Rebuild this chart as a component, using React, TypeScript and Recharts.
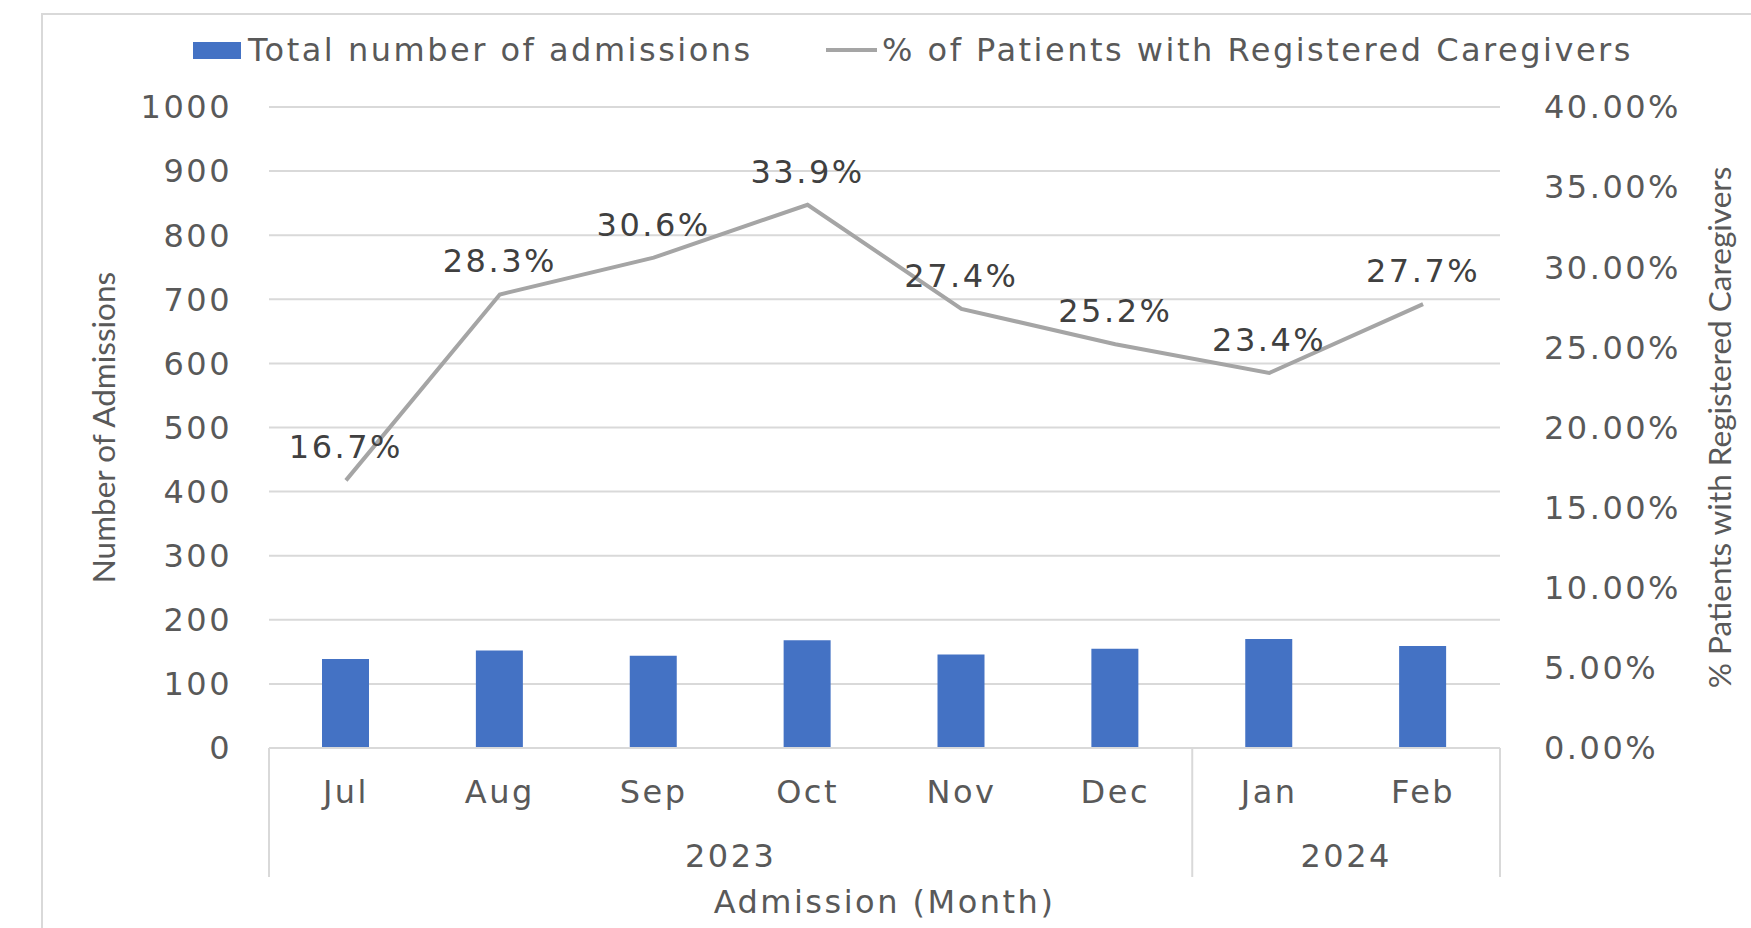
import React from "react";
import { ComposedChart, Bar, Line, XAxis, YAxis, CartesianGrid, LabelList, Label } from "recharts";

const months = ["Jul", "Aug", "Sep", "Oct", "Nov", "Dec", "Jan", "Feb"];
const years = ["2023", "2023", "2023", "2023", "2023", "2023", "2024", "2024"];
const admissions = [139, 152, 144, 168, 146, 155, 170, 159];
const caregiverPct = [16.7, 28.3, 30.6, 33.9, 27.4, 25.2, 23.4, 27.7];
const admissionTicks = [0, 100, 200, 300, 400, 500, 600, 700, 800, 900, 1000];
const pctTicks = [0, 5, 10, 15, 20, 25, 30, 35, 40];

const rows = months.map((m, i) => ({
  month: m,
  year: years[i],
  admissions: admissions[i],
  pct: caregiverPct[i],
}));

const TEXT = "#595959";
const LABEL = "#404040";
const GRID = "#d9d9d9";
const BLUE = "#4472C4";
const GREY_LINE = "#A5A5A5";
const FS = 32;

function MonthTick(props: any) {
  const { x, y, payload, index } = props;
  const half = payload.offset ?? 77;
  const yr = years[index];
  const first = index === 0 || years[index - 1] !== yr;
  const last = index === months.length - 1;
  const groupSize = years.filter((v) => v === yr).length;
  return (
    <g>
      <text x={x} y={y + 43} dy="0.36em" textAnchor="middle" fill={TEXT} fontSize={FS}>
        {payload.value}
      </text>
      {first && <line x1={x - half} x2={x - half} y1={y} y2={y + 129} stroke={GRID} strokeWidth={2} />}
      {first && (
        <text x={x - half + groupSize * half} y={y + 107} dy="0.36em" textAnchor="middle" fill={TEXT} fontSize={FS}>
          {yr}
        </text>
      )}
      {last && <line x1={x + half} x2={x + half} y1={y} y2={y + 129} stroke={GRID} strokeWidth={2} />}
    </g>
  );
}

const vTitle = (text: string, dx: number) => (p: any) => {
  const vb = p.viewBox;
  const cx = vb.x + dx;
  const cy = vb.y + vb.height / 2;
  return (
    <text
      x={cx}
      y={cy}
      dy="0.36em"
      textAnchor="middle"
      transform={`rotate(-90, ${cx}, ${cy})`}
      fill={TEXT}
      fontSize={31.5}
      style={{ fontFamily: "Lato", letterSpacing: 0 }}
    >
      {text}
    </text>
  );
};

const xTitle = (p: any) => {
  const vb = p.viewBox;
  return (
    <text x={vb.x + vb.width / 2} y={vb.y + 153} dy="0.36em" textAnchor="middle" fill={TEXT} fontSize={FS}>
      Admission (Month)
    </text>
  );
};

export default function App() {
  return (
    <div
      style={{
        position: "absolute",
        left: 0,
        top: 0,
        width: 1751,
        height: 928,
        overflow: "hidden",
        background: "#fff",
        fontFamily: '"DejaVu Sans"',
        letterSpacing: 2.5,
      }}
    >
      <div
        style={{
          position: "absolute",
          left: 41,
          top: 13,
          width: 1751,
          height: 928,
          border: `2px solid ${GRID}`,
        }}
      />
      {/* legend */}
      <div style={{ position: "absolute", left: 193, top: 42, width: 48, height: 17, background: BLUE }} />
      <div style={{ position: "absolute", left: 248, top: 30, height: 40, lineHeight: "40px", fontSize: FS, color: TEXT, whiteSpace: "nowrap" }}>
        Total number of admissions
      </div>
      <div style={{ position: "absolute", left: 826, top: 48, width: 51, height: 4, background: GREY_LINE }} />
      <div style={{ position: "absolute", left: 882, top: 30, height: 40, lineHeight: "40px", fontSize: FS, color: TEXT, whiteSpace: "nowrap" }}>
        % of Patients with Registered Caregivers
      </div>

      <div style={{ position: "absolute", left: 0, top: 0 }}>
        <ComposedChart width={1751} height={928} data={rows} margin={{ top: 107, right: 0, bottom: 0, left: 0 }}>
          <CartesianGrid yAxisId="left" vertical={false} stroke={GRID} strokeWidth={2} />
          <XAxis
            dataKey="month"
            height={180}
            interval={0}
            tickLine={false}
            tickSize={0}
            tickMargin={0}
            axisLine={{ stroke: GRID, strokeWidth: 2 }}
            tick={<MonthTick />}
          >
            <Label content={xTitle} />
          </XAxis>
          <YAxis
            yAxisId="left"
            width={269}
            domain={[0, 1000]}
            ticks={admissionTicks}
            interval={0}
            axisLine={false}
            tickLine={false}
            tickSize={0}
            tickMargin={37}
            tick={{ fill: TEXT, fontSize: FS }}
          >
            <Label content={vTitle("Number of Admissions", 104)} />
          </YAxis>
          <YAxis
            yAxisId="right"
            orientation="right"
            width={251}
            domain={[0, 40]}
            ticks={pctTicks}
            interval={0}
            axisLine={false}
            tickLine={false}
            tickSize={0}
            tickMargin={44}
            tickFormatter={(v: number) => `${v.toFixed(2)}%`}
            tick={{ fill: TEXT, fontSize: FS }}
          >
            <Label content={vTitle("% Patients with Registered Caregivers", 220)} />
          </YAxis>
          <Bar yAxisId="left" dataKey="admissions" fill={BLUE} barSize={47} isAnimationActive={false} />
          <Line
            yAxisId="right"
            type="linear"
            dataKey="pct"
            stroke={GREY_LINE}
            strokeWidth={4}
            dot={false}
            activeDot={false}
            isAnimationActive={false}
          >
            <LabelList
              dataKey="pct"
              position="top"
              offset={22}
              formatter={(v: any) => `${Number(v).toFixed(1)}%`}
              fill={LABEL}
              fontSize={FS}
            />
          </Line>
        </ComposedChart>
      </div>
    </div>
  );
}
